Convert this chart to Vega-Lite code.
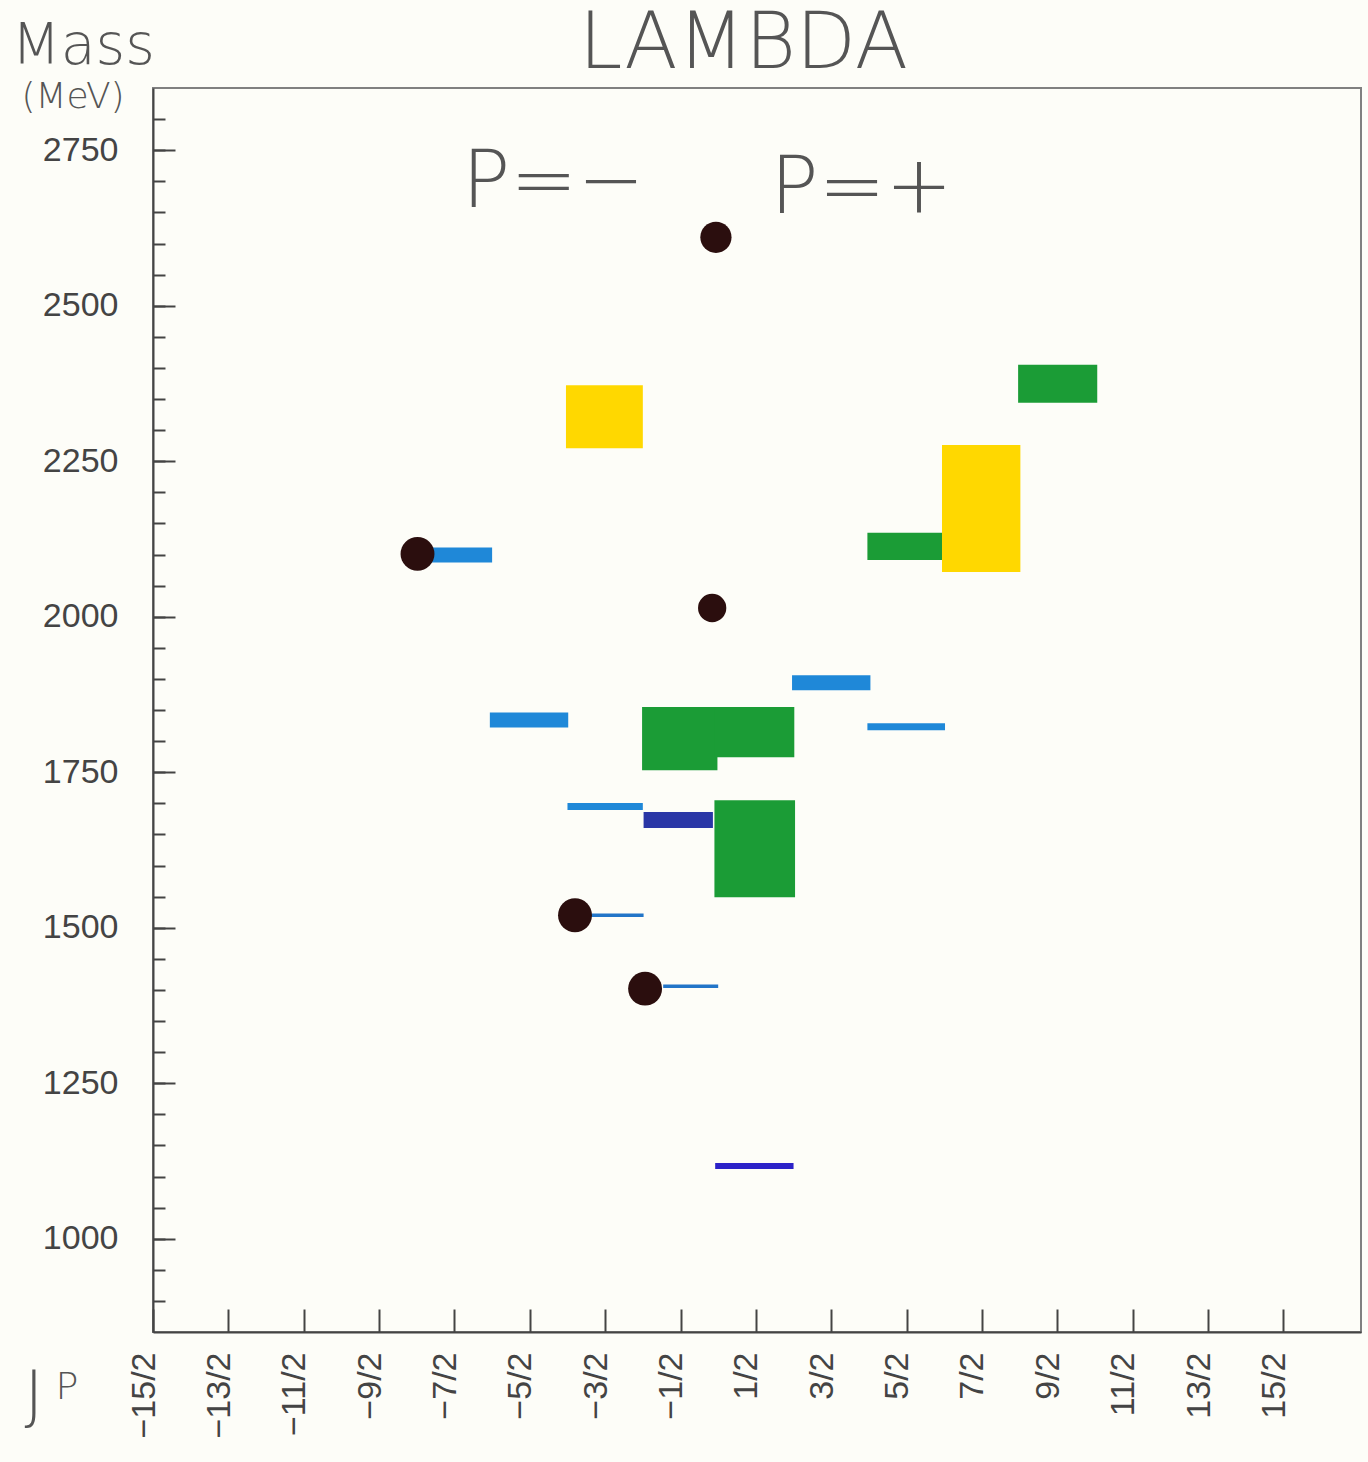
{
  "$schema": "https://vega.github.io/schema/vega-lite/v6.json",
  "width": 1208,
  "height": 1244,
  "autosize": {"type": "none"},
  "padding": {"left": 153, "top": 88, "right": 7, "bottom": 130},
  "background": "#fdfdf8",
  "config": {
    "view": {"stroke": "#808080", "strokeWidth": 2},
    "font": "Liberation Sans"
  },
  "datasets": {
    "ranges": [
      {"state": "Λ(1600)", "j_lo": -0.05, "j_hi": 1.02, "m_lo": 1549, "m_hi": 1705, "band": "A"},
      {"state": "Λ(1800)", "j_lo": -1.01, "j_hi": -0.01, "m_lo": 1753, "m_hi": 1855, "band": "A"},
      {"state": "Λ(1810)", "j_lo": -0.05, "j_hi": 1.01, "m_lo": 1774, "m_hi": 1855, "band": "A"},
      {"state": "Λ(2110)", "j_lo": 1.98, "j_hi": 2.97, "m_lo": 2091, "m_hi": 2135, "band": "A"},
      {"state": "Λ(2350)", "j_lo": 3.98, "j_hi": 5.03, "m_lo": 2344, "m_hi": 2405, "band": "A"},
      {"state": "Λ(2020)", "j_lo": 2.97, "j_hi": 4.01, "m_lo": 2072, "m_hi": 2276, "band": "B"},
      {"state": "Λ(2325)", "j_lo": -2.02, "j_hi": -1.0, "m_lo": 2271, "m_hi": 2372, "band": "B"}
    ],
    "lines": [
      {"state": "Λ(1116)", "j_lo": -0.04, "j_hi": 1.0, "mass": 1117, "kind": "ground"},
      {"state": "Λ(1405)", "j_lo": -0.73, "j_hi": 0.0, "mass": 1406, "kind": "hair"},
      {"state": "Λ(1520)", "j_lo": -1.9, "j_hi": -0.99, "mass": 1520, "kind": "hair"},
      {"state": "Λ(1670)", "j_lo": -0.99, "j_hi": -0.07, "mass": 1673, "kind": "darkwide"},
      {"state": "Λ(1690)", "j_lo": -2.0, "j_hi": -1.0, "mass": 1695, "kind": "narrow"},
      {"state": "Λ(1820)", "j_lo": 1.98, "j_hi": 3.01, "mass": 1823, "kind": "narrow"},
      {"state": "Λ(1830)", "j_lo": -3.03, "j_hi": -1.99, "mass": 1834, "kind": "wide"},
      {"state": "Λ(1890)", "j_lo": 0.98, "j_hi": 2.02, "mass": 1894, "kind": "wide"},
      {"state": "Λ(2100)", "j_lo": -3.82, "j_hi": -3.0, "mass": 2099, "kind": "wide"}
    ],
    "dots": [
      {"j": -0.97, "mass": 1402, "kind": "large"},
      {"j": -1.9, "mass": 1520, "kind": "large"},
      {"j": -3.99, "mass": 2101, "kind": "large"},
      {"j": -0.08, "mass": 2014, "kind": "small"},
      {"j": -0.03, "mass": 2610, "kind": "medium"}
    ],
    "parity": [
      {"j": -2.19, "mass": 2659, "label": "P=−"},
      {"j": 1.9, "mass": 2649, "label": "P=+"}
    ]
  },
  "resolve": {"axis": {"x": "independent", "y": "independent"}},
  "layer": [
    {
      "data": {"name": "ranges"},
      "mark": {"type": "rect"},
      "encoding": {
        "x": {
          "field": "j_lo", "type": "quantitative",
          "scale": {"domain": [-7.5, 8.53], "nice": false, "zero": false},
          "axis": {
            "values": [-7.5, -6.5, -5.5, -4.5, -3.5, -2.5, -1.5, -0.5, 0.5, 1.5, 2.5, 3.5, 4.5, 5.5, 6.5, 7.5],
            "labelExpr": "(datum.value < 0 ? '−' : '') + format(abs(datum.value) * 2, 'd') + '/2'",
            "labelAngle": -90, "labelAlign": "right", "labelBaseline": "middle",
            "labelFontSize": 34, "labelColor": "#444444", "labelPadding": 43, "labelOffset": -9,
            "labelFlush": false, "labelOverlap": false,
            "tickSize": -23, "tickColor": "#444444", "tickWidth": 2,
            "domainColor": "#444444", "domainWidth": 2, "grid": false,
            "title": "J", "titleFont": "DejaVu Sans", "titleFontWeight": 200, "titleFontSize": 64, "titleColor": "#555555",
            "titleAngle": 0, "titleX": -129, "titleY": 84, "titleAlign": "left", "titleBaseline": "alphabetic"
          }
        },
        "x2": {"field": "j_hi"},
        "y": {
          "field": "m_lo", "type": "quantitative",
          "scale": {"domain": [850, 2850], "nice": false, "zero": false},
          "axis": {
            "values": [1000, 1250, 1500, 1750, 2000, 2250, 2500, 2750],
            "format": "d",
            "labelFontSize": 34, "labelColor": "#444444", "labelPadding": 57,
            "tickSize": -22, "tickColor": "#444444", "tickWidth": 2,
            "domainColor": "#444444", "domainWidth": 2, "grid": false,
            "title": "Mass", "titleFont": "DejaVu Sans", "titleFontWeight": 200, "titleFontSize": 57, "titleColor": "#555555",
            "titleAngle": 0, "titleX": -142, "titleY": -25, "titleAlign": "left", "titleBaseline": "alphabetic"
          }
        },
        "y2": {"field": "m_hi"},
        "color": {
          "field": "band", "type": "nominal",
          "scale": {"domain": ["A", "B"], "range": ["#1b9c36", "#ffd800"]},
          "legend": null
        }
      }
    },
    {
      "data": {"name": "lines"},
      "transform": [{"filter": {"field": "kind", "equal": "wide"}}],
      "mark": {"type": "rule", "color": "#1f88d8", "strokeWidth": 15},
      "encoding": {
        "x": {
          "field": "j_lo", "type": "quantitative",
          "scale": {"domain": [-7.5, 8.53], "nice": false, "zero": false},
          "axis": {
            "orient": "bottom", "ticks": false, "labels": false, "domain": false, "grid": false,
            "title": "P", "titleFont": "DejaVu Sans", "titleFontWeight": 200, "titleFontSize": 38, "titleColor": "#555555",
            "titleAngle": 0, "titleX": -98, "titleY": 66, "titleAlign": "left", "titleBaseline": "alphabetic"
          }
        },
        "x2": {"field": "j_hi"},
        "y": {
          "field": "mass", "type": "quantitative",
          "scale": {"domain": [850, 2850], "nice": false, "zero": false},
          "axis": {
            "orient": "left",
            "values": [900, 950, 1000, 1050, 1100, 1150, 1200, 1250, 1300, 1350, 1400, 1450, 1500, 1550, 1600, 1650, 1700, 1750, 1800, 1850, 1900, 1950, 2000, 2050, 2100, 2150, 2200, 2250, 2300, 2350, 2400, 2450, 2500, 2550, 2600, 2650, 2700, 2750, 2800],
            "labels": false, "domain": false, "grid": false,
            "tickSize": -12, "tickColor": "#444444", "tickWidth": 2,
            "title": "(MeV)", "titleFont": "DejaVu Sans", "titleFontWeight": 200, "titleFontSize": 36, "titleColor": "#555555",
            "titleAngle": 0, "titleX": -132, "titleY": 19, "titleAlign": "left", "titleBaseline": "alphabetic"
          }
        }
      }
    },
    {
      "data": {"name": "lines"},
      "transform": [{"filter": {"field": "kind", "equal": "narrow"}}],
      "mark": {"type": "rule", "color": "#1f88d8", "strokeWidth": 7},
      "encoding": {
        "x": {
          "field": "j_lo", "type": "quantitative",
          "scale": {"domain": [-7.5, 8.53], "nice": false, "zero": false},
          "axis": {
            "orient": "top", "ticks": false, "labels": false, "domain": false, "grid": false,
            "title": "LAMBDA", "titleFont": "DejaVu Sans", "titleFontWeight": 200, "titleFontSize": 78, "titleColor": "#555555",
            "titleAngle": 0, "titleX": 590, "titleY": -21, "titleAlign": "center", "titleBaseline": "alphabetic"
          }
        },
        "x2": {"field": "j_hi"},
        "y": {"field": "mass", "type": "quantitative", "scale": {"domain": [850, 2850], "nice": false, "zero": false}, "axis": null}
      }
    },
    {
      "data": {"name": "lines"},
      "transform": [{"filter": {"field": "kind", "equal": "hair"}}],
      "mark": {"type": "rule", "color": "#2275c8", "strokeWidth": 3.5},
      "encoding": {
        "x": {"field": "j_lo", "type": "quantitative", "scale": {"domain": [-7.5, 8.53], "nice": false, "zero": false}, "axis": null},
        "x2": {"field": "j_hi"},
        "y": {"field": "mass", "type": "quantitative", "scale": {"domain": [850, 2850], "nice": false, "zero": false}, "axis": null}
      }
    },
    {
      "data": {"name": "lines"},
      "transform": [{"filter": {"field": "kind", "equal": "darkwide"}}],
      "mark": {"type": "rule", "color": "#2a36a6", "strokeWidth": 16},
      "encoding": {
        "x": {"field": "j_lo", "type": "quantitative", "scale": {"domain": [-7.5, 8.53], "nice": false, "zero": false}, "axis": null},
        "x2": {"field": "j_hi"},
        "y": {"field": "mass", "type": "quantitative", "scale": {"domain": [850, 2850], "nice": false, "zero": false}, "axis": null}
      }
    },
    {
      "data": {"name": "lines"},
      "transform": [{"filter": {"field": "kind", "equal": "ground"}}],
      "mark": {"type": "rule", "color": "#2c22c8", "strokeWidth": 6},
      "encoding": {
        "x": {"field": "j_lo", "type": "quantitative", "scale": {"domain": [-7.5, 8.53], "nice": false, "zero": false}, "axis": null},
        "x2": {"field": "j_hi"},
        "y": {"field": "mass", "type": "quantitative", "scale": {"domain": [850, 2850], "nice": false, "zero": false}, "axis": null}
      }
    },
    {
      "mark": {"type": "rule", "color": "#6e6e6e", "strokeWidth": 2},
      "encoding": {
        "x": {"datum": -0.05, "type": "quantitative", "scale": {"domain": [-7.5, 8.53], "nice": false, "zero": false}, "axis": null}
      }
    },
    {
      "data": {"name": "dots"},
      "mark": {"type": "circle", "opacity": 1, "color": "#2b0e0e"},
      "encoding": {
        "x": {"field": "j", "type": "quantitative", "scale": {"domain": [-7.5, 8.53], "nice": false, "zero": false}, "axis": null},
        "y": {"field": "mass", "type": "quantitative", "scale": {"domain": [850, 2850], "nice": false, "zero": false}, "axis": null},
        "size": {
          "field": "kind", "type": "nominal",
          "scale": {"domain": ["large", "medium", "small"], "range": [1150, 800, 530]},
          "legend": null
        }
      }
    },
    {
      "data": {"name": "parity"},
      "mark": {"type": "text", "font": "DejaVu Sans", "fontWeight": 200, "fontSize": 80, "color": "#555555", "align": "center", "baseline": "alphabetic"},
      "encoding": {
        "x": {"field": "j", "type": "quantitative", "scale": {"domain": [-7.5, 8.53], "nice": false, "zero": false}, "axis": null},
        "y": {"field": "mass", "type": "quantitative", "scale": {"domain": [850, 2850], "nice": false, "zero": false}, "axis": null},
        "text": {"field": "label"}
      }
    }
  ]
}
